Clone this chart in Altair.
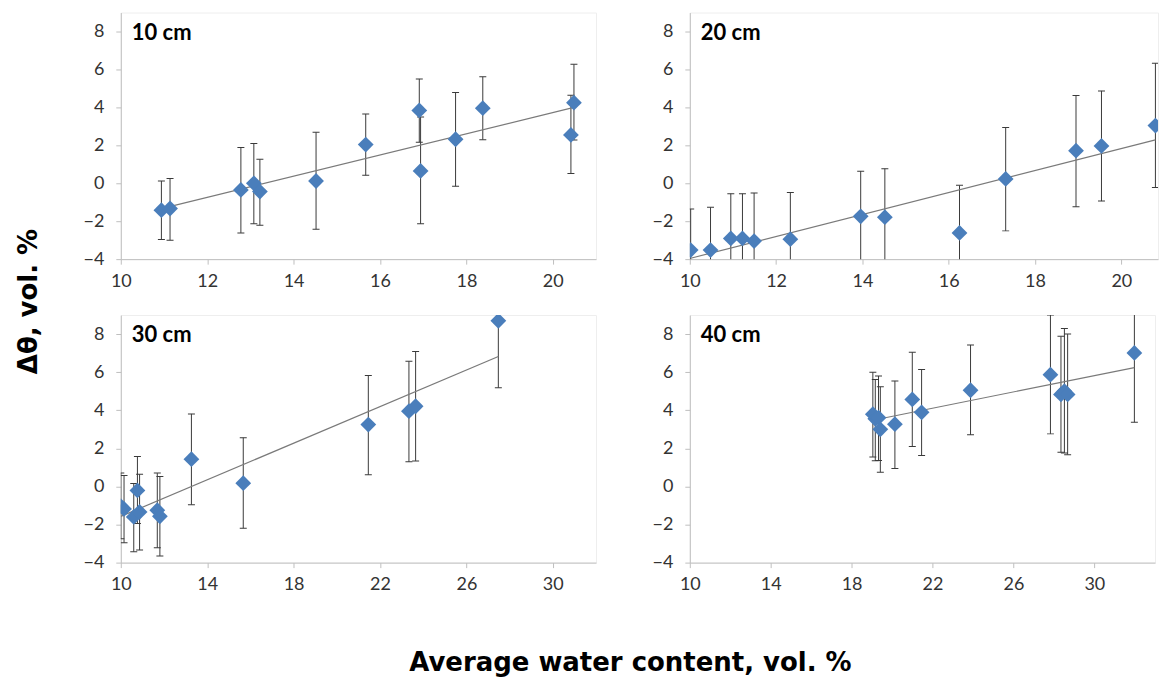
import altair as alt
import pandas as pd

# ---------------- data ----------------
depth_labels = ["10 cm", "20 cm", "30 cm", "40 cm"]

x10 = [10.94, 11.14, 12.78, 13.08, 13.22, 14.52, 15.67, 16.91, 16.94, 17.75, 18.38, 20.42, 20.49]
y10 = [-1.42, -1.33, -0.35, 0.0, -0.44, 0.12, 2.04, 3.84, 0.65, 2.32, 3.96, 2.55, 4.25]
hi10 = [0.12, 0.25, 1.89, 2.10, 1.26, 2.69, 3.65, 5.50, 3.49, 4.78, 5.61, 4.64, 6.27]
lo10 = [-2.97, -3.00, -2.62, -2.14, -2.21, -2.42, 0.42, 2.16, -2.14, -0.16, 2.30, 0.51, 2.28]

x20 = [10.02, 10.48, 10.95, 11.22, 11.49, 12.33, 13.96, 14.52, 16.25, 17.32, 18.95, 19.54, 20.79]
y20 = [-3.52, -3.52, -2.91, -2.91, -3.05, -2.95, -1.74, -1.79, -2.62, 0.23, 1.72, 1.97, 3.04]
hi20 = [-1.36, -1.27, -0.55, -0.55, -0.51, -0.49, 0.64, 0.77, -0.11, 2.94, 4.63, 4.87, 6.33]
lo20 = [-5.68, -5.77, -5.27, -5.27, -5.59, -5.41, -4.12, -4.35, -5.13, -2.51, -1.24, -0.94, -0.22]

x30 = [10.0, 10.15, 10.6, 10.77, 10.87, 11.69, 11.81, 13.27, 15.67, 21.46, 23.34, 23.65, 27.48]
y30 = [-1.04, -1.18, -1.6, -0.21, -1.34, -1.25, -1.57, 1.43, 0.17, 3.25, 3.95, 4.21, 8.7]
hi30 = [0.70, 0.57, 0.16, 1.57, 0.64, 0.70, 0.52, 3.81, 2.56, 5.83, 6.57, 7.08, 12.2]
lo30 = [-2.75, -2.96, -3.43, -1.95, -3.34, -3.22, -3.65, -0.96, -2.19, 0.61, 1.29, 1.34, 5.18]

x40 = [19.05, 19.17, 19.33, 19.42, 20.14, 21.0, 21.46, 23.88, 27.83, 28.35, 28.52, 28.68, 31.98]
y40 = [3.79, 3.55, 3.61, 3.0, 3.27, 4.57, 3.89, 5.05, 5.87, 4.83, 5.0, 4.83, 7.01]
hi40 = [6.0, 5.62, 5.8, 5.23, 5.54, 7.05, 6.14, 7.43, 9.0, 7.88, 8.29, 8.0, 10.7]
lo40 = [1.55, 1.35, 1.36, 0.75, 0.94, 2.1, 1.62, 2.71, 2.76, 1.79, 1.76, 1.67, 3.37]

x_ticks_a = [10, 12, 14, 16, 18, 20]
x_ticks_b = [10, 14, 18, 22, 26, 30]
y_ticks = [-4, -2, 0, 2, 4, 6, 8]

x_title = "Average water content, vol. %"
y_title = "Δθ, vol. %"

# ---------------- styling ----------------
BLUE = "#4a7ebb"
BAR = "#3a3a3a"
TREND = "#7a7a7a"
TITLE_FONT = "DejaVu Sans"


def panel(label, xs, ys, lo, hi, xdom, xticks, width, height,
          ytitle=False, xtitle=False):
    df = pd.DataFrame({"x": xs, "y": ys, "lo": lo, "hi": hi})
    xscale = alt.Scale(domain=xdom, nice=False, zero=False)
    yscale = alt.Scale(domain=[-4, 9], nice=False, zero=False)

    xaxis_kw = dict(values=xticks, format="d", labelPadding=8, labelFlush=False)
    if xtitle:
        xaxis_kw.update(title=x_title, titleX=510, titleY=100,
                        titleAlign="center", titleBaseline="middle",
                        titleFont=TITLE_FONT, titleFontSize=26,
                        titleFontWeight="bold", titleColor="#000000")
    else:
        xaxis_kw.update(title=None)
    yaxis_kw = dict(values=y_ticks, format="d", labelPadding=12, labelFlush=False)
    if ytitle:
        yaxis_kw.update(title=y_title, titleX=-92, titleY=289, titleAngle=270,
                        titleAlign="center", titleBaseline="middle",
                        titleFont=TITLE_FONT, titleFontSize=26,
                        titleFontWeight="bold", titleColor="#000000")
    else:
        yaxis_kw.update(title=None)
    xaxis = alt.Axis(**xaxis_kw)
    yaxis = alt.Axis(**yaxis_kw)

    def X(f):
        return alt.X(f, type="quantitative", scale=xscale, axis=xaxis)

    def Y(f):
        return alt.Y(f, type="quantitative", scale=yscale, axis=yaxis)

    base = alt.Chart(df)
    bars = base.mark_rule(color=BAR, strokeWidth=1, clip=True).encode(
        x=X("x"), y=Y("lo"), y2="hi")
    cap_hi = base.mark_tick(orient="horizontal", size=7, thickness=1,
                            color=BAR, clip=True, opacity=1).encode(x=X("x"), y=Y("hi"))
    cap_lo = base.mark_tick(orient="horizontal", size=7, thickness=1,
                            color=BAR, clip=True, opacity=1).encode(x=X("x"), y=Y("lo"))
    trend = base.transform_regression("x", "y").mark_line(
        color=TREND, strokeWidth=1.2, clip=True).encode(x=X("x"), y=Y("y"))
    pts = base.mark_point(shape="diamond", filled=True, size=250, color=BLUE,
                          opacity=1, clip=True).encode(x=X("x"), y=Y("y"))
    lab = alt.Chart(pd.DataFrame({"t": [label]})).mark_text(
        align="left", baseline="alphabetic", font="Lato", fontSize=22,
        fontWeight="bold", color="#000000").encode(
        x=alt.value(11), y=alt.value(27), text="t:N")
    return alt.layer(bars, cap_hi, cap_lo, trend, pts, lab).properties(
        width=width, height=height)


p1 = panel(depth_labels[0], x10, y10, lo10, hi10, [10, 21], x_ticks_a, 476, 247, ytitle=True)
p2 = panel(depth_labels[1], x20, y20, lo20, hi20, [10, 20.85], x_ticks_a, 469, 247)
p3 = panel(depth_labels[2], x30, y30, lo30, hi30, [10, 32], x_ticks_b, 476, 248, xtitle=True)
p4 = panel(depth_labels[3], x40, y40, lo40, hi40, [10, 33], x_ticks_b, 466, 248)

chart = alt.concat(p1, p2, p3, p4, columns=2,
                   spacing=alt.RowColnumber(row=56, column=94),
                   bounds="flush").properties(
    padding={"left": 15, "top": 11, "right": 0, "bottom": 0}
).configure_view(
    stroke="#eeeeee", strokeWidth=1
).configure_axis(
    grid=False, domainColor="#bfbfbf", tickColor="#bfbfbf", tickSize=5,
    domainWidth=1, tickWidth=1,
    labelFont="Lato", labelFontSize=18, labelColor="#333333"
)

chart.save("out.html", embed_options={"renderer": "svg", "actions": False})
